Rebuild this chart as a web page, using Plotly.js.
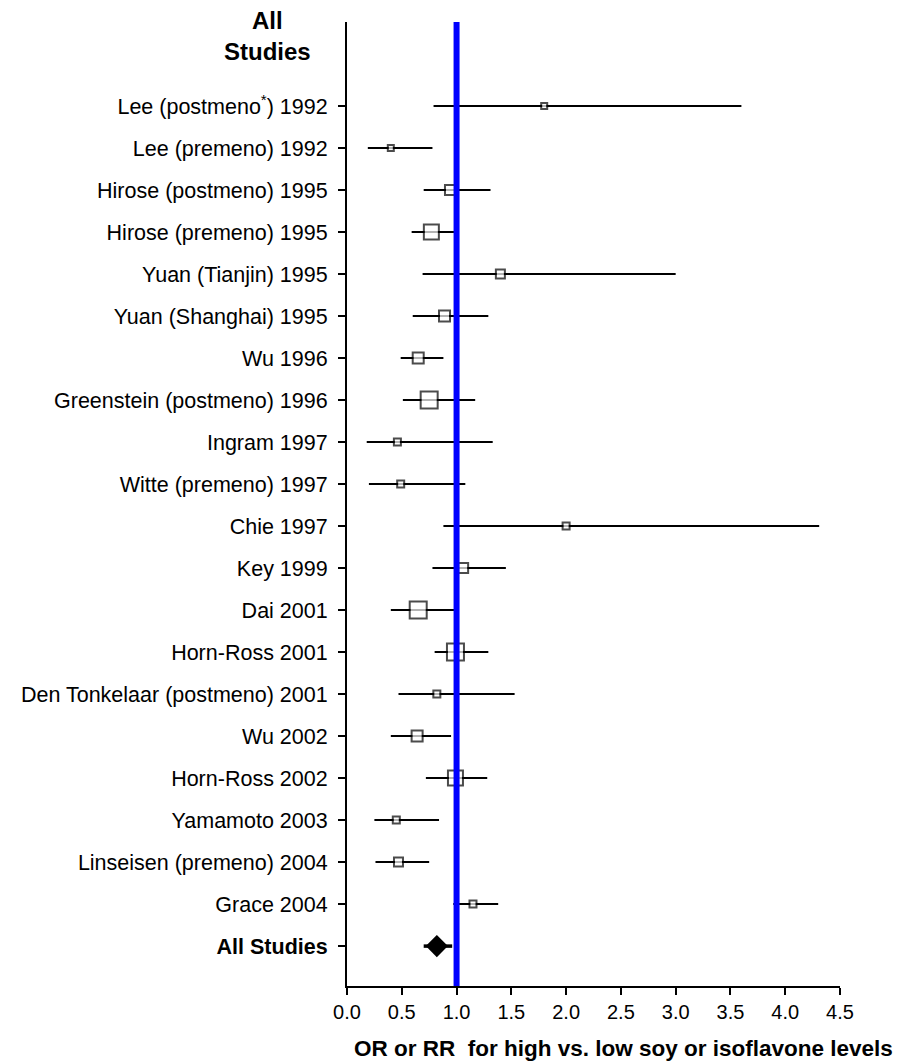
<!DOCTYPE html>
<html>
<head>
<meta charset="utf-8">
<script src="https://cdn.plot.ly/plotly-3.0.1.min.js"></script>
<style>html,body{margin:0;padding:0;background:#fff;}#chart{width:905px;height:1064px;}</style>
</head>
<body>
<div id="chart"></div>
<script>
const studies = [
  "Lee (postmeno<sup>*</sup>) 1992", "Lee (premeno) 1992", "Hirose (postmeno) 1995", "Hirose (premeno) 1995",
  "Yuan (Tianjin) 1995", "Yuan (Shanghai) 1995", "Wu 1996", "Greenstein (postmeno) 1996",
  "Ingram 1997", "Witte (premeno) 1997", "Chie 1997", "Key 1999", "Dai 2001", "Horn-Ross 2001",
  "Den Tonkelaar (postmeno) 2001", "Wu 2002", "Horn-Ross 2002", "Yamamoto 2003",
  "Linseisen (premeno) 2004", "Grace 2004"
];
const estimate = [1.80, 0.40, 0.94, 0.77, 1.40, 0.89, 0.65, 0.75, 0.46, 0.49, 2.00, 1.06, 0.65, 0.99, 0.82, 0.64, 0.99, 0.45, 0.47, 1.15];
const lower    = [0.79, 0.19, 0.70, 0.59, 0.69, 0.60, 0.49, 0.51, 0.18, 0.20, 0.88, 0.78, 0.40, 0.80, 0.47, 0.40, 0.72, 0.25, 0.26, 0.97];
const upper    = [3.60, 0.78, 1.31, 0.98, 3.00, 1.29, 0.88, 1.17, 1.33, 1.08, 4.31, 1.45, 0.98, 1.29, 1.53, 0.95, 1.28, 0.84, 0.75, 1.38];
const weight   = [6, 6, 10, 15, 9, 11, 11, 17, 7, 7, 7, 10, 17, 17, 7, 11, 15, 7, 9, 7];
const pooledLabel = "<b>All Studies</b>";
const pooled = {est: 0.82, lo: 0.70, hi: 0.96};
const xTicks = [0, 0.5, 1, 1.5, 2, 2.5, 3, 3.5, 4, 4.5];

const rows = studies.map((_, i) => i);
const pooledRow = studies.length;
const font = "Arial, 'Liberation Sans', sans-serif";

const traces = [
  {
    type: "scatter", mode: "markers",
    x: estimate, y: rows,
    marker: {symbol: "square", size: weight, color: "#ffffff", line: {color: "#000000", width: 2}},
    error_x: {type: "data", symmetric: false,
      array: estimate.map((e, i) => upper[i] - e),
      arrayminus: estimate.map((e, i) => e - lower[i]),
      color: "#000000", thickness: 2, width: 0},
    hoverinfo: "x+y", showlegend: false, cliponaxis: false
  },
  {
    type: "scatter", mode: "markers",
    x: [pooled.est], y: [pooledRow],
    marker: {symbol: "diamond", size: 17, color: "#000000"},
    error_x: {type: "data", symmetric: false, array: [pooled.hi - pooled.est], arrayminus: [pooled.est - pooled.lo],
      color: "#000000", thickness: 3.5, width: 0},
    showlegend: false
  }
];

const layout = {
  width: 905, height: 1064,
  margin: {l: 347, r: 65, t: 22, b: 78},
  paper_bgcolor: "#ffffff", plot_bgcolor: "#ffffff",
  font: {family: font, size: 21, color: "#000000"},
  showlegend: false,
  xaxis: {
    range: [0, 4.5], tickvals: xTicks, tickformat: ".1f",
    showgrid: false, zeroline: false,
    showline: true, linecolor: "#000000", linewidth: 2,
    ticks: "outside", ticklen: 7, tickwidth: 2, tickcolor: "#000000",
    tickfont: {size: 20, family: font}
  },
  yaxis: {
    range: [20.95, -2.0],
    tickvals: rows.concat([pooledRow]),
    ticktext: studies.concat([pooledLabel]),
    showgrid: false, zeroline: false,
    showline: true, linecolor: "#000000", linewidth: 2,
    ticks: "outside", ticklen: 7, tickwidth: 2, tickcolor: "#000000",
    tickfont: {size: 21.5, family: font}, ticklabelstandoff: 6
  },
  shapes: [
    {type: "line", xref: "x", yref: "paper", x0: 1, x1: 1, y0: 0, y1: 1,
     line: {color: "#0000ff", width: 6}, layer: "above"}
  ],
  annotations: [
    {xref: "paper", yref: "paper", x: -0.162, y: 0.985, xanchor: "center", yanchor: "middle",
     text: "<b>All<br>Studies</b>", showarrow: false, font: {size: 24, family: font}, align: "center"},
    {xref: "paper", yref: "paper", x: 0.56, y: -0.065, xanchor: "center", yanchor: "middle",
     text: "<b>OR or RR\u00a0 for high vs. low soy or isoflavone levels</b>", showarrow: false,
     font: {size: 22.5, family: font}}
  ]
};

Plotly.newPlot("chart", traces, layout, {displayModeBar: false, staticPlot: true});
</script>
</body>
</html>
